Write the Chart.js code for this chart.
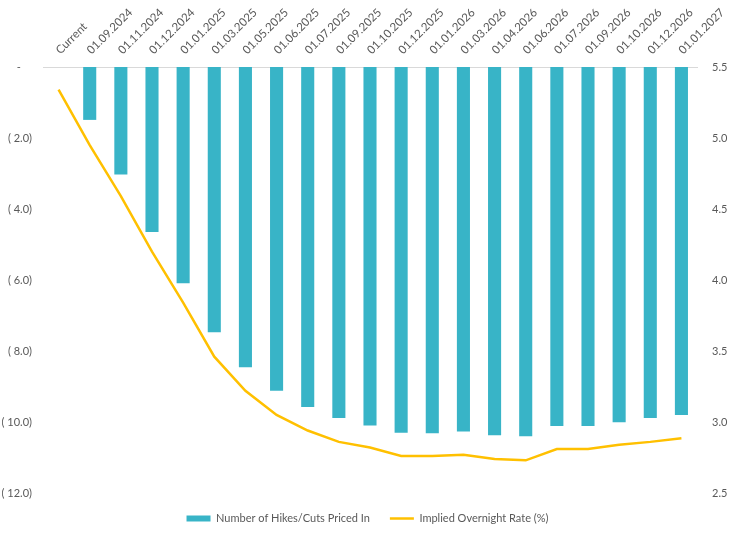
<!DOCTYPE html>
<html>
<head>
<meta charset="utf-8">
<script src="https://cdn.jsdelivr.net/npm/chart.js@4/dist/chart.umd.min.js"></script>
<style>
  html, body { margin: 0; padding: 0; background: #fff; }
  #wrap { width: 735px; height: 538px; }
</style>
</head>
<body>
<div id="wrap"><canvas id="chart" width="735" height="538"></canvas></div>
<script>
// data
const categories = ['Current', '01.09.2024', '01.11.2024', '01.12.2024', '01.01.2025', '01.03.2025',
  '01.05.2025', '01.06.2025', '01.07.2025', '01.09.2025', '01.10.2025', '01.12.2025', '01.01.2026',
  '01.03.2026', '01.04.2026', '01.06.2026', '01.07.2026', '01.09.2026', '01.10.2026', '01.12.2026', '01.01.2027'];
const hikesCuts = [0, -1.49, -3.03, -4.65, -6.09, -7.47, -8.46, -9.12, -9.58, -9.89, -10.10,
  -10.30, -10.32, -10.27, -10.37, -10.40, -10.11, -10.11, -10.01, -9.89, -9.80];
const overnightRate = [5.34, 4.95, 4.59, 4.20, 3.84, 3.46, 3.22, 3.05, 2.94, 2.86, 2.82,
  2.76, 2.76, 2.77, 2.74, 2.73, 2.81, 2.81, 2.84, 2.86, 2.885];
const leftTicks = [0, -2, -4, -6, -8, -10, -12];
const rightTicks = [2.5, 3.0, 3.5, 4.0, 4.5, 5.0, 5.5];

const teal = '#38B4C7';
const gold = '#FFC000';
const grey = '#595959';

Chart.defaults.font.family = 'Lato, "Open Sans", sans-serif';
Chart.defaults.font.size = 11;
Chart.defaults.color = grey;

const ctx = document.getElementById('chart').getContext('2d');
new Chart(ctx, {
  type: 'bar',
  data: {
    labels: categories,
    datasets: [{
      label: 'Number of Hikes/Cuts Priced In',
      data: hikesCuts,
      backgroundColor: teal,
      borderWidth: 0,
      categoryPercentage: 1,
      barPercentage: 0.42,
      yAxisID: 'y',
      pointStyle: 'rect'
    }, {
      type: 'line',
      label: 'Implied Overnight Rate (%)',
      data: overnightRate,
      borderColor: gold,
      backgroundColor: gold,
      borderWidth: 2.5,
      pointRadius: 0,
      tension: 0,
      yAxisID: 'y1',
      pointStyle: 'line'
    }]
  },
  options: {
    responsive: false,
    devicePixelRatio: 1,
    animation: false,
    layout: { padding: { top: 0, bottom: 4, left: 0, right: 0 } },
    plugins: {
      tooltip: { enabled: false },
      legend: {
        position: 'bottom',
        labels: {
          usePointStyle: true,
          pointStyleWidth: 24,
          boxHeight: 6,
          padding: 20,
          color: grey,
          font: { size: 11 }
        }
      }
    },
    scales: {
      x: {
        position: 'top',
        grid: { display: false },
        border: { display: true, color: '#D9D9D9', width: 1 },
        ticks: { minRotation: 45, maxRotation: 45, autoSkip: false, padding: 2, labelOffset: 9, color: grey, font: { size: 11.5 } },
        afterFit: s => { s.height = 67; }
      },
      y: {
        position: 'left',
        min: -12,
        max: 0,
        grid: { display: false },
        border: { display: false },
        afterBuildTicks: s => { s.ticks = leftTicks.map(v => ({ value: v })); },
        ticks: {
          padding: 3,
          color: grey,
          callback: v => v === 0 ? '-    ' : '( ' + Math.abs(v).toFixed(1) + ')'
        },
        afterFit: s => { s.width = 43; }
      },
      y1: {
        position: 'right',
        min: 2.5,
        max: 5.5,
        grid: { display: false },
        border: { display: false },
        afterBuildTicks: s => { s.ticks = rightTicks.map(v => ({ value: v })); },
        ticks: { padding: 7, color: grey, callback: v => Number(v).toFixed(1) },
        afterFit: s => { s.width = 38; }
      }
    }
  }
});
</script>
</body>
</html>
